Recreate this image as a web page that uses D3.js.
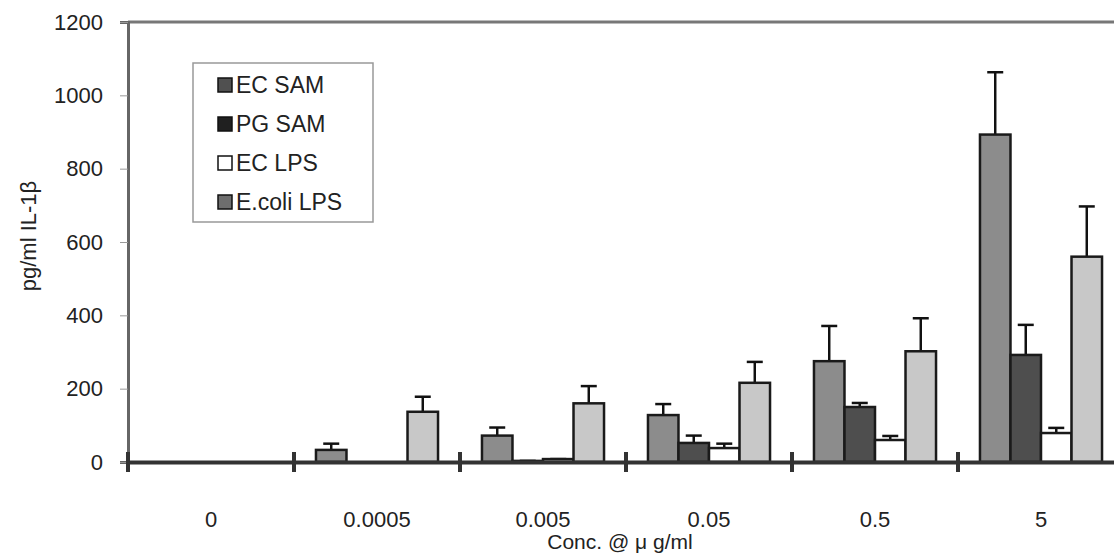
<!DOCTYPE html>
<html>
<head>
<meta charset="utf-8">
<script src="https://cdn.jsdelivr.net/npm/d3@7"></script>
<style>
  body { margin: 0; background: #fff; }
  text { font-family: "Liberation Sans", Arial, sans-serif; fill: #222; }
</style>
</head>
<body>
<svg id="chart" width="1114" height="557"></svg>
<script>
const concLabels = ["0", "0.0005", "0.005", "0.05", "0.5", "5"];
const seriesNames = ["EC SAM", "PG SAM", "EC LPS", "E.coli LPS"];
const ecSam = [0, 33, 72, 128, 275, 893];
const pgSam = [0, 0, 3, 52, 150, 292];
const ecLps = [0, 0, 8, 38, 60, 79];
const ecoliLps = [0, 137, 160, 216, 302, 560];
const ecSamErr = [0, 17, 22, 30, 96, 170];
const pgSamErr = [0, 0, 0, 20, 11, 82];
const ecLpsErr = [0, 0, 0, 12, 11, 14];
const ecoliLpsErr = [0, 41, 47, 57, 90, 137];
const yTicks = [0, 200, 400, 600, 800, 1000, 1200];

const means = [ecSam, pgSam, ecLps, ecoliLps];
const errs = [ecSamErr, pgSamErr, ecLpsErr, ecoliLpsErr];
const fills = ["#8c8c8c", "#4e4e4e", "#ffffff", "#c8c8c8"];
const swatch = ["#505050", "#202020", "#ffffff", "#6e6e6e"];

const margin = { top: 22, left: 128 },
    plotW = 996, plotH = 440;

const svg = d3.select("#chart");
const g = svg.append("g").attr("transform", `translate(${margin.left},${margin.top})`);

const x0 = d3.scaleBand().domain(concLabels).range([0, plotW]).paddingInner(0).paddingOuter(0);
const x1 = d3.scaleBand().domain(seriesNames).range([0, x0.bandwidth()]).paddingInner(0).paddingOuter(0.72);
const y = d3.scaleLinear().domain([0, 1200]).range([plotH, 0]);

// frame top line
g.append("line").attr("x1", 0).attr("x2", plotW).attr("y1", 0).attr("y2", 0)
    .attr("stroke", "#777").attr("stroke-width", 3);

// y axis
const yAxis = g.append("g").call(d3.axisLeft(y).tickValues(yTicks).tickFormat(d3.format("d")).tickSize(8).tickPadding(17));
yAxis.select(".domain").attr("stroke", "#666").attr("stroke-width", 3);
yAxis.selectAll(".tick line").attr("stroke", "#999").attr("stroke-width", 1);
yAxis.selectAll(".tick text").style("font-size", "22px").attr("fill", "#222");

// bars
const rows = [];
concLabels.forEach((c, i) => {
    seriesNames.forEach((s, j) => rows.push({ conc: c, series: s, j: j, v: means[j][i], e: errs[j][i] }));
});

const bars = g.append("g").selectAll("g").data(rows.filter(d => d.v > 0)).join("g")
    .attr("transform", d => `translate(${x0(d.conc) + x1(d.series)},0)`);

bars.append("line")
    .attr("x1", x1.bandwidth() / 2).attr("x2", x1.bandwidth() / 2)
    .attr("y1", d => y(d.v)).attr("y2", d => y(d.v + d.e))
    .attr("stroke", "#111").attr("stroke-width", 2.5);
bars.append("line")
    .attr("x1", x1.bandwidth() / 2 - 8).attr("x2", x1.bandwidth() / 2 + 8)
    .attr("y1", d => y(d.v + d.e)).attr("y2", d => y(d.v + d.e))
    .attr("stroke", "#111").attr("stroke-width", 2.5);
bars.append("rect")
    .attr("x", 0).attr("width", x1.bandwidth())
    .attr("y", d => y(d.v)).attr("height", d => y(0) - y(d.v))
    .attr("fill", d => fills[d.j]).attr("stroke", "#1a1a1a").attr("stroke-width", 2.5);

// x axis
const xAxis = g.append("g").attr("transform", `translate(0,${plotH})`)
    .call(d3.axisBottom(x0).tickSize(0).tickPadding(49));
xAxis.select(".domain").attr("stroke", "#333").attr("stroke-width", 4);
xAxis.selectAll(".tick text").style("font-size", "22px").attr("fill", "#222");
g.append("g").selectAll("line").data(concLabels).join("line")
    .attr("x1", d => x0(d)).attr("x2", d => x0(d))
    .attr("y1", plotH - 10).attr("y2", plotH + 10)
    .attr("stroke", "#333").attr("stroke-width", 4);

// axis titles
svg.append("text").attr("x", 620).attr("y", 549).attr("text-anchor", "middle")
    .style("font-size", "21px").text("Conc. @ \u03bc g/ml");
svg.append("text").attr("transform", "translate(36,236) rotate(-90)").attr("text-anchor", "middle")
    .style("font-size", "22px").text("pg/ml IL-1\u03b2");

// legend
const legend = svg.append("g").attr("transform", "translate(193,63)");
legend.append("rect").attr("width", 180).attr("height", 159)
    .attr("fill", "#fff").attr("stroke", "#999").attr("stroke-width", 1.5);
seriesNames.forEach((s, i) => {
    const row = legend.append("g").attr("transform", `translate(25, ${22 + i * 39})`);
    row.append("rect").attr("x", 0).attr("y", -7).attr("width", 14).attr("height", 14)
        .attr("fill", swatch[i]).attr("stroke", "#111").attr("stroke-width", 1.5);
    row.append("text").attr("x", 18).attr("y", 8).style("font-size", "23px").text(s);
});
</script>
</body>
</html>
